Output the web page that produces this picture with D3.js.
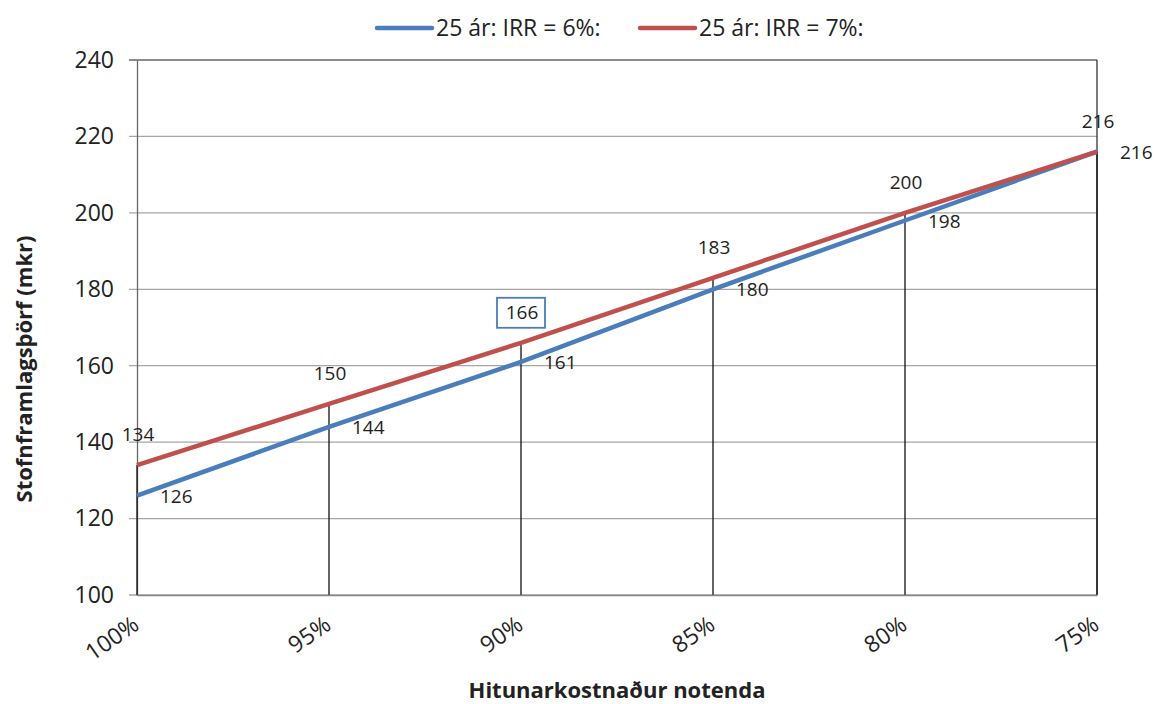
<!DOCTYPE html>
<html>
<head>
<meta charset="utf-8">
<script src="https://cdn.jsdelivr.net/npm/d3@7"></script>
<style>
  body { margin: 0; background: #fff; }
  text { font-family: "Open Sans", sans-serif; fill: #222; }
</style>
</head>
<body>
<svg id="chart" width="1156" height="704"></svg>
<script>
var categories = ["100%", "95%", "90%", "85%", "80%", "75%"];
var irr6 = [126, 144, 161, 180, 198, 216];
var irr7 = [134, 150, 166, 183, 200, 216];
var yTicks = [100, 120, 140, 160, 180, 200, 220, 240];
var seriesNames = ["25 ár: IRR = 6%:", "25 ár: IRR = 7%:"];
var blue = "#4a7ebb", red = "#c0504d";

var margin = {top: 60, right: 59, bottom: 109, left: 137};
var width = 1156 - margin.left - margin.right,
    height = 704 - margin.top - margin.bottom;

var svg = d3.select("#chart");
var g = svg.append("g").attr("transform", "translate(" + margin.left + "," + margin.top + ")");

var x = d3.scalePoint().domain(categories).range([0, width]);
var y = d3.scaleLinear().domain([100, 240]).range([height, 0]);

// gridlines
g.selectAll(".grid")
  .data(yTicks)
  .join("line")
  .attr("x1", -8).attr("x2", width)
  .attr("y1", function(d) { return y(d); })
  .attr("y2", function(d) { return y(d); })
  .attr("stroke", function(d) { return d == 240 ? "#666" : "#a6a6a6"; })
  .attr("stroke-width", 1.3);

// y axis
var yAxis = g.append("g")
  .call(d3.axisLeft(y).tickValues(yTicks).tickSize(0).tickPadding(23));
yAxis.select(".domain").attr("stroke", "#666").attr("stroke-width", 1.3);
yAxis.selectAll("text").style("font-size", "23px").style("font-family", "Open Sans").attr("fill", "#222");

// right border
g.append("line")
  .attr("x1", width).attr("x2", width)
  .attr("y1", 0).attr("y2", height)
  .attr("stroke", "#333").attr("stroke-width", 1.3);

// drop lines down to the higher series
g.selectAll(".drop")
  .data(categories)
  .join("line")
  .attr("x1", function(d) { return x(d); })
  .attr("x2", function(d) { return x(d); })
  .attr("y1", height)
  .attr("y2", function(d, i) { return y(irr7[i]); })
  .attr("stroke", "#111").attr("stroke-width", 1.3);

// x axis labels
var xAxis = g.append("g")
  .attr("transform", "translate(0," + height + ")")
  .call(d3.axisBottom(x).tickSize(0).tickPadding(0));
xAxis.select(".domain").attr("stroke", "#888").attr("stroke-width", 1.3);
xAxis.selectAll("text")
  .style("font-size", "23px").style("font-family", "Open Sans").attr("fill", "#222")
  .attr("text-anchor", "end")
  .attr("dy", null).attr("y", 0)
  .attr("transform", "translate(3,33) rotate(-35)");

// lines
var line = d3.line()
  .x(function(d, i) { return x(categories[i]); })
  .y(function(d) { return y(d); });

g.append("path").datum(irr6)
  .attr("d", line).attr("fill", "none")
  .attr("stroke", blue).attr("stroke-width", 4.5);
g.append("path").datum(irr7)
  .attr("d", line).attr("fill", "none")
  .attr("stroke", red).attr("stroke-width", 4.5);

// data labels: blue to the right, red above
g.selectAll(".lab6")
  .data(irr6)
  .join("text")
  .attr("x", function(d, i) { return x(categories[i]) + 23; })
  .attr("y", function(d) { return y(d) + 7; })
  .style("font-size", "19px")
  .text(function(d) { return d; });

g.selectAll(".lab7")
  .data(irr7)
  .join("text")
  .attr("x", function(d, i) { return x(categories[i]) + 1; })
  .attr("y", function(d) { return y(d) - 24; })
  .attr("text-anchor", "middle")
  .style("font-size", "19px")
  .text(function(d) { return d; });

// box around the 90% label
g.append("rect")
  .attr("x", x("90%") - 24)
  .attr("y", y(irr7[2]) - 45)
  .attr("width", 48).attr("height", 30)
  .attr("fill", "none").attr("stroke", blue).attr("stroke-width", 1.8);

// legend
var legend = svg.append("g");
var legX = [377, 640];
seriesNames.forEach(function(name, i) {
  legend.append("line")
    .attr("x1", legX[i]).attr("x2", legX[i] + 55)
    .attr("y1", 28).attr("y2", 28)
    .attr("stroke", i == 0 ? blue : red)
    .attr("stroke-width", 4.5).attr("stroke-linecap", "round");
  legend.append("text")
    .attr("x", legX[i] + 59).attr("y", 36)
    .style("font-size", "23px")
    .text(name);
});

// axis titles
svg.append("text")
  .attr("x", 617).attr("y", 698)
  .attr("text-anchor", "middle")
  .style("font-size", "22px").style("font-weight", "bold")
  .text("Hitunarkostnaður notenda");

svg.append("text")
  .attr("transform", "translate(32,369) rotate(-90)")
  .attr("text-anchor", "middle")
  .style("font-size", "22px").style("font-weight", "bold")
  .text("Stofnframlagsþörf (mkr)");
</script>
</body>
</html>
